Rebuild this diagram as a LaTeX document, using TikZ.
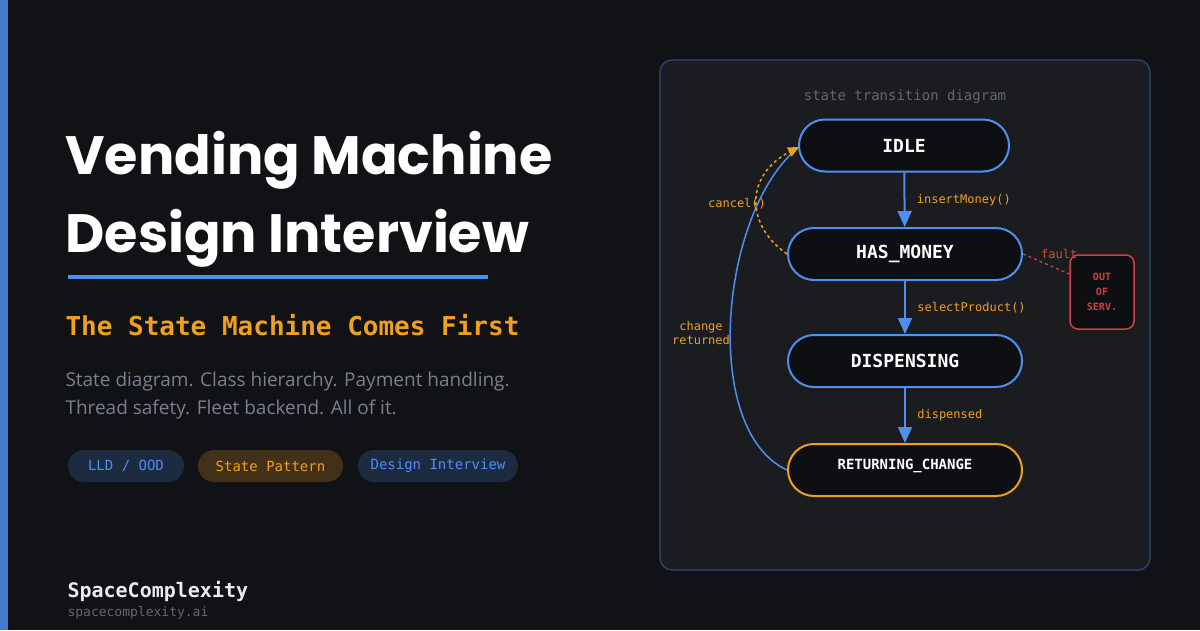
\documentclass[tikz,border=0pt]{standalone}
\usepackage{fontspec}
\setmainfont{Open Sans}
\newfontfamily\titlefont{Poppins}[BoldFont={Poppins Bold}]
\newfontfamily\monofont{DejaVu Sans Mono}
\usetikzlibrary{arrows.meta}

\definecolor{bg}{HTML}{111216}
\definecolor{panel}{HTML}{1B1C20}
\definecolor{panelline}{HTML}{2E4B72}
\definecolor{accent}{HTML}{4F8FEF}
\definecolor{amber}{HTML}{F0A020}
\definecolor{alert}{HTML}{D04040}
\definecolor{muted}{HTML}{7A8090}
\definecolor{stateFill}{HTML}{0E0F12}

\tikzset{
    state/.style={draw=accent, line width=2pt, fill=stateFill, rounded corners=26pt,
        minimum width=234pt, minimum height=52pt, text=white, font=\monofont\bfseries\fontsize{18}{20}\selectfont},
    pill/.style={rounded corners=16pt, minimum height=32pt, font=\monofont\fontsize{14}{16}\selectfont},
    event/.style={text=amber, font=\monofont\fontsize{12}{14}\selectfont},
    flow/.style={->, accent, line width=2pt},
}

\begin{document}
\begin{tikzpicture}[x=1pt, y=-1pt, >={Triangle[length=16pt, width=14pt]}]

    \fill[bg] (0,0) rectangle (1200,630);
    \fill[accent!85!black] (0,0) rectangle (8,630);

    % left column
    \node[right, text=white, font=\titlefont\bfseries\fontsize{54}{60}\selectfont] (title1) at (62,160) {Vending Machine};
    \node[right, text=white, font=\titlefont\bfseries\fontsize{54}{60}\selectfont] (title2) at (62,238) {Design Interview};
    \fill[accent] (68,275) rectangle (488,279);
    \node[right, text=amber, font=\monofont\bfseries\fontsize{26}{28}\selectfont] (sub) at (62,325) {The State Machine Comes First};
    \node[right, text=muted, font=\fontsize{19}{28}\selectfont, align=left] (blurb) at (62,396)
        {State diagram. Class hierarchy. Payment handling.\\Thread safety. Fleet backend. All of it.};

    \node[pill, fill=accent!20!bg, text=accent, minimum width=116pt] (lld) at (126,466) {LLD / OOD};
    \node[pill, fill=amber!22!bg, text=amber, minimum width=145pt] (pattern) at (270.5,466) {State Pattern};
    \node[pill, fill=accent!20!bg, text=accent, minimum width=160pt] (interview) at (438,466) {Design Interview};

    \node[right, text=white!92!black, font=\monofont\bfseries\fontsize{20}{22}\selectfont] (brand) at (64,591) {SpaceComplexity};
    \node[right, text=muted!80!black, font=\monofont\fontsize{13}{15}\selectfont] (url) at (64,613) {spacecomplexity.ai};

    % diagram panel
    \draw[panelline, line width=1.2pt, fill=panel, rounded corners=12pt] (660,60) rectangle (1150,570);
    \node[text=muted!80!black, font=\monofont\fontsize{14}{16}\selectfont] (caption) at (905,97) {state transition diagram};

    \node[state, minimum width=210pt] (idle) at (904,145.5) {IDLE};
    \node[state] (money) at (905,254) {HAS\_MONEY};
    \node[state] (dispense) at (905,361) {DISPENSING};
    \node[state, draw=amber, font=\monofont\bfseries\fontsize{14}{16}\selectfont, text depth=12pt] (change) at (905,470) {RETURNING\_CHANGE};
    \node[draw=alert, line width=1.5pt, fill=stateFill, rounded corners=8pt, minimum width=64pt, minimum height=74pt,
        text=alert, align=center, font=\monofont\bfseries\fontsize{10}{15}\selectfont] (out) at (1102,292) {OUT\\OF\\SERV.};

    \draw[flow] (idle) -- node[event, right=8pt] {insertMoney()} (money);
    \draw[flow] (money) -- node[event, right=8pt] {selectProduct()} (dispense);
    \draw[flow] (dispense) -- node[event, right=8pt] {dispensed} (change);

    \coordinate (back) at (799,147);
    \draw[accent, line width=1.5pt] (change.west) .. controls (700,430) and (720,210) .. (back);
    \node[event, align=center] (changelbl) at (701,333) {change\\returned};
    \draw[amber, dashed, line width=1.5pt, -{Triangle[length=11pt, width=10pt]}] (money.west) .. controls (745,225) and (745,175) .. (back);
    \node[event] (cancellbl) at (737,204) {cancel()};
    \draw[alert, dashed, line width=1.3pt] (money.east) -- node[event, text=alert!90!amber, above right=-2pt, pos=0.35] {fault} (out.west |- 0,274);

\end{tikzpicture}
\end{document}
